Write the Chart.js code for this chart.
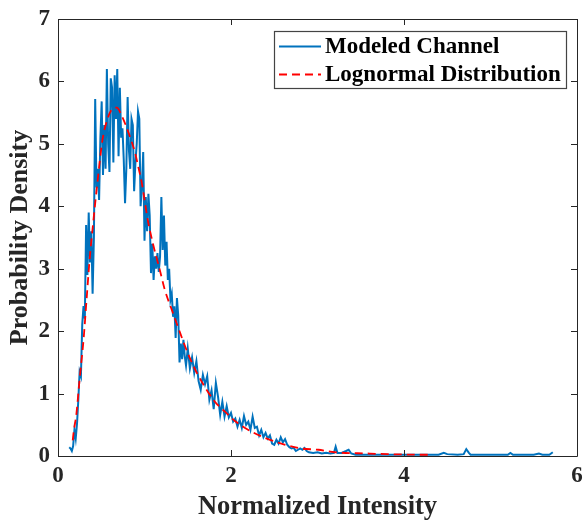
<!DOCTYPE html>
<html>
<head>
<meta charset="utf-8">
<script src="https://cdn.jsdelivr.net/npm/chart.js@4/dist/chart.umd.min.js"></script>
<style>
  html, body { margin: 0; padding: 0; background: #ffffff; }
  #wrap { width: 584px; height: 520px; }
</style>
</head>
<body>
<div id="wrap"><canvas id="c" width="584" height="520"></canvas></div>
<script>
// Simulated channel histogram (normalized intensity vs. probability density)
const channelX = [
  0.13,0.145,0.16,0.175,0.19,0.205,0.22,0.235,0.25,0.265,
  0.28,0.295,0.31,0.325,0.34,0.355,0.37,0.385,0.4,0.415,
  0.43,0.445,0.46,0.475,0.49,0.505,0.52,0.535,0.55,0.565,
  0.58,0.595,0.61,0.625,0.64,0.655,0.67,0.685,0.7,0.715,
  0.73,0.745,0.76,0.775,0.79,0.805,0.82,0.835,0.85,0.865,
  0.88,0.895,0.91,0.925,0.94,0.955,0.97,0.985,1.0,1.015,
  1.03,1.045,1.06,1.075,1.09,1.105,1.12,1.135,1.15,1.165,
  1.18,1.195,1.21,1.225,1.24,1.255,1.27,1.285,1.3,1.315,
  1.33,1.345,1.36,1.375,1.39,1.405,1.42,1.435,1.45,1.465,
  1.48,
  1.5,1.525,1.55,1.575,1.6,1.625,1.65,1.675,1.7,1.725,
  1.75,1.775,1.8,1.825,1.85,1.875,1.9,1.925,1.95,1.975,
  2.0,2.025,2.05,2.075,2.1,2.125,2.15,2.175,2.2,2.225,
  2.25,2.275,2.3,2.325,2.35,2.375,2.4,2.425,2.45,2.475,
  2.5,2.525,2.55,2.575,2.6,2.625,2.65,2.675,2.7,2.725,
  2.75,2.775,2.8,2.825,2.85,2.875,2.9,
  2.95,3.0,3.05,3.1,3.15,3.19,3.21,3.23,3.28,3.33,
  3.36,3.39,3.44,3.6,3.8,4.0,4.2,4.4,4.46,4.5,
  4.62,4.69,4.72,4.75,4.77,5.0,5.2,5.23,5.26,5.5,
  5.56,5.6,5.68,5.72
];
const channelY = [
  0.14,0.12,0.08,0.16,0.42,0.28,0.52,0.9,1.35,1.28,
  2.1,2.4,2.2,3.7,2.9,3.9,3.1,3.6,2.6,3.5,
  5.72,4.3,4.6,4.1,5.1,5.68,4.5,5.3,4.6,6.2,
  5.0,4.55,6.05,5.9,4.7,6.1,5.4,6.2,4.8,5.9,
  5.1,5.25,4.75,4.05,4.6,5.75,4.9,4.6,5.4,5.3,
  4.24,4.7,5.0,5.52,5.4,4.0,4.3,4.87,3.45,4.15,
  3.6,4.2,3.85,2.93,3.4,2.82,3.2,3.0,3.25,2.95,
  3.2,4.15,3.3,3.85,3.05,3.43,2.82,3.0,2.5,2.6,
  2.23,2.4,1.89,2.53,2.25,1.5,1.8,1.55,1.86,1.6,
  1.45,
  1.72,1.4,1.58,1.33,1.52,1.2,1.06,1.3,1.15,1.28,
  0.9,1.05,0.75,1.17,0.95,0.66,0.87,0.63,0.8,0.62,
  0.69,0.55,0.6,0.47,0.58,0.45,0.64,0.5,0.55,0.42,
  0.63,0.45,0.47,0.33,0.42,0.3,0.37,0.28,0.33,0.2,
  0.18,0.26,0.2,0.3,0.22,0.27,0.18,0.14,0.12,0.13,
  0.08,0.1,0.12,0.1,0.13,0.08,0.06,
  0.05,0.06,0.04,0.05,0.04,0.05,0.15,0.05,0.05,0.08,
  0.1,0.04,0.02,0.02,0.02,0.02,0.02,0.02,0.05,0.03,
  0.02,0.03,0.11,0.05,0.02,0.02,0.02,0.05,0.02,0.02,
  0.04,0.02,0.02,0.06
];

// Fitted lognormal density
const fitX = [
  0.17,0.18,0.214,0.249,0.295,0.33,0.365,0.41,0.45,0.515,
  0.57,0.63,0.68,0.74,0.81,0.89,0.93,0.968,1.038,1.096,
  1.177,1.235,1.316,1.386,1.5,1.606,1.814,1.93,2.046,2.197,
  2.394,2.626,2.81,3.01,3.2,3.58,3.81,4.23,4.31
];
const fitY = [
  0.25,0.37,0.69,1.22,1.86,2.5,3.14,3.78,4.31,5.07,
  5.39,5.56,5.58,5.44,5.2,4.86,4.62,4.38,3.78,3.41,
  2.98,2.66,2.34,2.07,1.65,1.33,0.87,0.71,0.56,0.42,
  0.29,0.18,0.12,0.1,0.06,0.04,0.03,0.02,0.02
];

const seriesNames = ['Modeled Channel', 'Lognormal Distribution'];
const xTicks = [0, 2, 4, 6];
const yTicks = [0, 1, 2, 3, 4, 5, 6, 7];
const xTitle = 'Normalized Intensity';
const yTitle = 'Probability Density';

const INK = '#262626';
const FONT = '"Liberation Serif", "Times New Roman", serif';

const toPoints = (xs, ys) => xs.map((x, i) => ({ x: x, y: ys[i] }));

// Box around the plot with inward ticks on all four sides
const framePlugin = {
  id: 'frame',
  afterDatasetsDraw(chart) {
    const { ctx, chartArea: a, scales } = chart;
    const len = 6;
    ctx.save();
    ctx.strokeStyle = INK;
    ctx.lineWidth = 1;
    ctx.beginPath();
    ctx.rect(Math.round(a.left) + 0.5, Math.round(a.top) + 0.5,
             Math.round(a.right - a.left), Math.round(a.bottom - a.top));
    ctx.stroke();
    ctx.beginPath();
    xTicks.forEach(v => {
      const px = Math.round(scales.x.getPixelForValue(v)) + 0.5;
      ctx.moveTo(px, a.bottom); ctx.lineTo(px, a.bottom - len);
      ctx.moveTo(px, a.top); ctx.lineTo(px, a.top + len);
    });
    yTicks.forEach(v => {
      const py = Math.round(scales.y.getPixelForValue(v)) + 0.5;
      ctx.moveTo(a.left, py); ctx.lineTo(a.left + len, py);
      ctx.moveTo(a.right, py); ctx.lineTo(a.right - len, py);
    });
    ctx.stroke();
    ctx.restore();
  }
};

// Boxed legend in the upper right of the plot
const legendPlugin = {
  id: 'boxLegend',
  afterDraw(chart) {
    const { ctx } = chart;
    const box = { x: 274.5, y: 31.5, w: 292, h: 57 };
    ctx.save();
    ctx.fillStyle = '#ffffff';
    ctx.fillRect(box.x, box.y, box.w, box.h);
    ctx.strokeStyle = '#444444';
    ctx.lineWidth = 1.2;
    ctx.strokeRect(box.x, box.y, box.w, box.h);
    const rows = [46.5, 74.5];
    chart.data.datasets.forEach((ds, i) => {
      const y = rows[i];
      ctx.beginPath();
      ctx.strokeStyle = ds.borderColor;
      ctx.lineWidth = ds.borderWidth;
      ctx.setLineDash(ds.borderDash || []);
      ctx.moveTo(279, y);
      ctx.lineTo(321, y);
      ctx.stroke();
      ctx.setLineDash([]);
      ctx.fillStyle = '#000000';
      ctx.font = 'bold 23px ' + FONT;
      ctx.textBaseline = 'middle';
      ctx.textAlign = 'left';
      ctx.fillText(ds.label, 325, y + 1);
    });
    ctx.restore();
  }
};

new Chart(document.getElementById('c'), {
  type: 'line',
  data: {
    datasets: [
      {
        label: seriesNames[0],
        data: toPoints(channelX, channelY),
        borderColor: '#0072BD',
        borderWidth: 2,
        pointRadius: 0,
        tension: 0,
        fill: false,
        order: 2
      },
      {
        label: seriesNames[1],
        data: toPoints(fitX, fitY),
        borderColor: '#FF0000',
        borderWidth: 1.8,
        borderDash: [8, 5],
        pointRadius: 0,
        cubicInterpolationMode: 'monotone',
        fill: false,
        order: 1
      }
    ]
  },
  options: {
    responsive: false,
    animation: false,
    devicePixelRatio: 1,
    layout: { padding: { top: 19, right: 7, left: 0, bottom: 0 } },
    plugins: {
      legend: { display: false },
      tooltip: { enabled: false }
    },
    scales: {
      x: {
        type: 'linear',
        min: 0, max: 6,
        afterBuildTicks(scale) { scale.ticks = xTicks.map(v => ({ value: v })); },
        afterFit(scale) {
          scale.height = 64;
          scale.paddingLeft = 0;
          scale.paddingRight = 0;
        },
        grid: { display: false, drawTicks: false },
        border: { display: false },
        ticks: {
          color: INK,
          padding: 6,
          font: { family: FONT, size: 23, weight: 'bold' }
        },
        title: {
          display: true,
          text: xTitle,
          color: INK,
          padding: { top: 0, bottom: -3 },
          font: { family: FONT, size: 26.5, weight: 'bold' }
        }
      },
      y: {
        type: 'linear',
        min: 0, max: 7,
        afterBuildTicks(scale) { scale.ticks = yTicks.map(v => ({ value: v })); },
        afterFit(scale) {
          scale.width = 58;
          scale.paddingTop = 0;
          scale.paddingBottom = 0;
        },
        grid: { display: false, drawTicks: false },
        border: { display: false },
        ticks: {
          color: INK,
          padding: 8,
          font: { family: FONT, size: 23, weight: 'bold' }
        },
        title: {
          display: true,
          text: yTitle,
          color: INK,
          padding: { top: 5, bottom: 0 },
          font: { family: FONT, size: 26, weight: 'bold' }
        }
      }
    }
  },
  plugins: [framePlugin, legendPlugin]
});
</script>
</body>
</html>
